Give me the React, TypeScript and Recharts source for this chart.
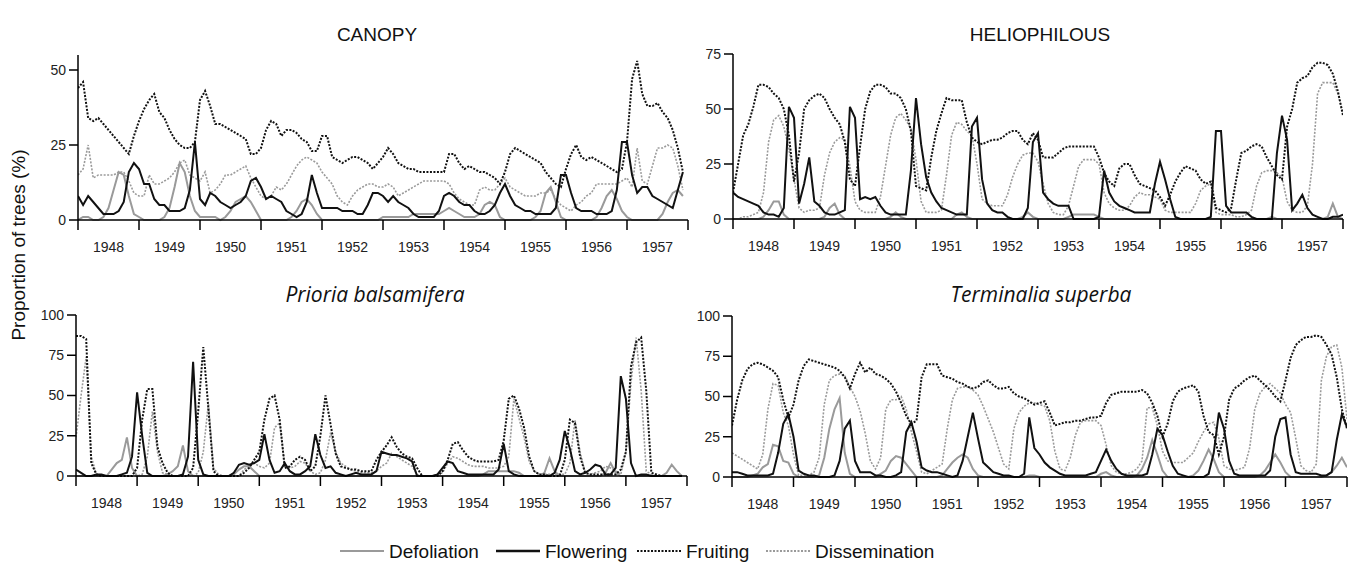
import React from "react";
import { Line, LineChart, XAxis, YAxis } from "recharts";

// monthly values, index 0 = Jan 1948
const YEARS = ["1948", "1949", "1950", "1951", "1952", "1953", "1954", "1955", "1956", "1957"];
const X_TICKS = [0, 0.5, 1, 1.5, 2, 2.5, 3, 3.5, 4, 4.5, 5, 5.5, 6, 6.5, 7, 7.5, 8, 8.5, 9, 9.5, 10];
const CANOPY_Y = [0, 25, 50];
const HELIO_Y = [0, 25, 50, 75];
const SPECIES_Y = [0, 25, 50, 75, 100];

const CANOPY_DEF = [
  0, 1, 1, 0, 0, 1, 4, 10, 16, 15,
  8, 2, 1, 0, 0, 0, 0, 1, 4, 11,
  19, 16, 8, 3, 1, 1, 1, 1, 0, 1,
  3, 6, 7, 8, 6, 3, 0, 0, 0, 0,
  0, 0, 1, 3, 6, 7, 5, 2, 0, 0,
  0, 0, 0, 0, 0, 0, 0, 0, 0, 0,
  1, 1, 1, 1, 1, 1, 2, 2, 2, 2,
  2, 2, 3, 4, 3, 2, 1, 1, 1, 2,
  5, 6, 5, 1, 0, 0, 0, 0, 0, 0,
  1, 3, 9, 11, 6, 1, 0, 0, 0, 0,
  0, 0, 1, 4, 8, 10, 7, 3, 1, 0,
  0, 0, 0, 0, 0, 2, 6, 9, 10, 8,
];
const CANOPY_FLO = [
  8, 5, 8, 6, 4, 2, 2, 2, 3, 6,
  16, 19, 17, 12, 12, 7, 5, 5, 3, 3,
  3, 4, 10, 26, 7, 5, 9, 8, 6, 5,
  4, 5, 6, 8, 13, 14, 11, 7, 8, 7,
  6, 3, 2, 1, 2, 6, 15, 9, 4, 4,
  4, 4, 3, 3, 3, 2, 2, 5, 9, 9,
  8, 6, 8, 6, 5, 4, 2, 1, 1, 1,
  1, 3, 8, 9, 8, 6, 5, 5, 3, 2,
  2, 3, 5, 9, 12, 8, 5, 4, 3, 3,
  2, 2, 2, 2, 4, 15, 15, 9, 4, 3,
  3, 3, 2, 2, 2, 3, 10, 26, 26, 15,
  9, 11, 11, 8, 7, 6, 5, 4, 10, 16,
];
const CANOPY_FRU = [
  44, 46, 34, 33, 34, 32, 30, 28, 26, 24,
  22, 28, 33, 37, 40, 42, 36, 34, 30, 27,
  25, 24, 24, 26, 40, 43, 38, 32, 32, 31,
  30, 29, 28, 27, 22, 22, 24, 30, 33, 32,
  28, 30, 30, 29, 27, 26, 23, 23, 28, 28,
  21, 20, 19, 20, 21, 21, 20, 19, 17, 19,
  21, 24, 22, 19, 18, 17, 17, 16, 16, 16,
  16, 16, 16, 22, 22, 19, 17, 18, 17, 16,
  16, 15, 14, 12, 16, 22, 24, 23, 22, 21,
  20, 19, 16, 14, 12, 11, 17, 22, 25, 21,
  20, 21, 20, 19, 18, 17, 16, 17, 26, 47,
  53, 42, 38, 38, 39, 36, 34, 30, 24, 16,
];
const CANOPY_DIS = [
  15, 17, 25, 14, 15, 15, 15, 15, 16, 16,
  13, 9, 8, 8, 15, 12, 12, 13, 14, 16,
  19, 20, 15, 14, 13, 16, 9, 10, 12, 15,
  15, 16, 17, 18, 14, 11, 8, 7, 8, 11,
  10, 12, 15, 18, 20, 21, 20, 19, 16, 14,
  12, 8, 6, 5, 8, 10, 11, 12, 12, 11,
  11, 12, 11, 8, 9, 10, 11, 12, 13, 13,
  13, 13, 13, 12, 9, 7, 6, 5, 5, 10,
  11, 10, 10, 12, 14, 11, 10, 9, 8, 8,
  8, 9, 9, 10, 7, 5, 4, 3, 5, 6,
  8, 9, 12, 12, 12, 12, 12, 13, 14, 11,
  24, 13, 12, 18, 24, 24, 25, 24, 18, 10,
];

const HELIO_DEF = [
  0, 0, 0, 0, 0, 0, 1, 4, 8, 8,
  2, 0, 0, 0, 0, 0, 0, 0, 1, 5,
  7, 2, 0, 0, 0, 0, 0, 0, 0, 0,
  0, 1, 3, 1, 0, 0, 0, 0, 0, 0,
  0, 0, 0, 0, 2, 3, 1, 0, 0, 0,
  0, 0, 0, 0, 0, 0, 0, 1, 3, 1,
  0, 0, 0, 0, 0, 0, 1, 2, 2, 2,
  2, 2, 1, 0, 0, 0, 0, 0, 0, 0,
  0, 0, 0, 0, 0, 0, 0, 0, 0, 0,
  0, 0, 0, 0, 0, 0, 0, 0, 0, 0,
  0, 0, 0, 0, 0, 0, 1, 0, 0, 0,
  0, 0, 0, 0, 0, 0, 0, 1, 7, 1,
  0,
];
const HELIO_FLO = [
  12, 10, 9, 8, 7, 6, 3, 2, 2, 1,
  5, 51, 46, 7, 16, 28, 8, 6, 3, 2,
  2, 3, 4, 51, 46, 9, 10, 9, 10, 6,
  3, 2, 2, 2, 2, 22, 55, 34, 19, 12,
  8, 5, 4, 3, 2, 2, 2, 42, 46, 18,
  7, 4, 3, 3, 1, 0, 0, 0, 5, 35,
  39, 12, 9, 7, 6, 6, 6, 0, 0, 0,
  0, 0, 1, 22, 12, 8, 6, 5, 4, 3,
  3, 3, 3, 16, 26, 18, 9, 1, 0, 0,
  0, 0, 0, 0, 1, 40, 40, 6, 3, 3,
  3, 3, 1, 0, 0, 0, 0, 30, 47, 36,
  4, 7, 11, 5, 2, 1, 0, 0, 1, 1,
  2,
];
const HELIO_FRU = [
  12, 25, 38, 43, 51, 61, 61, 60, 57, 55,
  50, 38, 17, 30, 50, 54, 56, 57, 55, 50,
  46, 43, 35, 18, 15, 33, 50, 58, 61, 61,
  60, 57, 57, 55, 50, 40, 15, 14, 13, 28,
  40, 48, 55, 54, 54, 54, 44, 37, 35, 34,
  35, 36, 36, 37, 39, 40, 40, 36, 34, 39,
  36, 28, 28, 28, 30, 32, 33, 33, 33, 33,
  33, 33, 28, 21, 17, 15, 23, 25, 25, 20,
  16, 15, 14, 13, 10, 6, 11, 17, 21, 24,
  23, 22, 18, 16, 17, 5, 4, 3, 5, 18,
  30, 31, 33, 34, 33, 28, 24, 20, 18, 42,
  50, 62, 64, 65, 69, 71, 71, 70, 66, 58,
  47,
];
const HELIO_DIS = [
  0, 0, 1, 1, 2, 3, 12, 35, 45, 47,
  42, 32, 18, 5, 3, 4, 4, 5, 20, 30,
  35, 37, 36, 24, 8, 4, 3, 3, 3, 10,
  24, 38, 46, 48, 45, 41, 27, 8, 3, 3,
  3, 4, 20, 38, 44, 43, 40, 38, 25, 9,
  7, 6, 6, 6, 11, 19, 25, 29, 30, 30,
  26, 16, 7, 3, 2, 2, 6, 15, 24, 27,
  27, 27, 25, 12, 7, 5, 4, 4, 6, 10,
  12, 11, 11, 10, 9, 4, 3, 3, 3, 3,
  3, 7, 13, 15, 16, 3, 2, 2, 2, 1,
  1, 2, 4, 15, 21, 22, 22, 21, 19, 8,
  4, 3, 3, 6, 25, 57, 62, 62, 62, 57,
  48,
];

const PRI_DEF = [
  0, 0, 0, 0, 0, 0, 0, 4, 8, 10,
  24, 5, 0, 0, 0, 0, 0, 0, 1, 3,
  6, 19, 3, 0, 0, 0, 0, 0, 0, 0,
  0, 1, 4, 6, 6, 3, 0, 0, 0, 0,
  0, 0, 0, 0, 0, 0, 0, 0, 0, 0,
  0, 0, 0, 0, 0, 0, 0, 0, 0, 0,
  0, 0, 0, 0, 0, 0, 0, 0, 0, 0,
  0, 0, 0, 0, 0, 0, 0, 0, 0, 0,
  1, 3, 3, 3, 3, 3, 3, 2, 0, 0,
  0, 0, 2, 11, 3, 0, 0, 0, 0, 0,
  0, 0, 0, 0, 2, 8, 2, 0, 0, 0,
  0, 0, 0, 0, 0, 0, 2, 7, 3, 0,
];
const PRI_FLO = [
  4, 2, 0, 0, 1, 1, 0, 0, 0, 1,
  2, 12, 52, 25, 2, 0, 0, 0, 0, 0,
  0, 1, 12, 71, 10, 1, 0, 0, 0, 0,
  0, 2, 7, 8, 7, 8, 10, 26, 10, 2,
  3, 8, 3, 1, 1, 3, 6, 26, 13, 5,
  6, 2, 1, 0, 1, 2, 1, 1, 1, 3,
  15, 14, 13, 13, 12, 11, 9, 0, 0, 0,
  0, 1, 5, 9, 8, 3, 2, 1, 1, 1,
  1, 1, 1, 4, 20, 3, 1, 0, 0, 0,
  0, 0, 0, 0, 2, 10, 28, 17, 3, 1,
  2, 4, 7, 6, 1, 1, 5, 62, 48, 8,
  0, 1, 1, 0, 0, 0, 0, 0, 0, 0,
];
const PRI_FRU = [
  87, 87, 85, 8, 1, 0, 0, 0, 0, 0,
  0, 0, 5, 35, 54, 54, 18, 8, 2, 0,
  0, 0, 0, 5, 40, 80, 42, 3, 0, 0,
  0, 0, 0, 2, 5, 10, 15, 35, 48, 50,
  35, 5, 6, 10, 12, 10, 3, 6, 25, 50,
  32, 14, 6, 5, 4, 4, 3, 3, 3, 10,
  15, 19, 24, 18, 14, 12, 11, 5, 0, 0,
  0, 0, 3, 10, 20, 21, 16, 12, 10, 9,
  9, 9, 9, 10, 22, 48, 50, 42, 30, 12,
  3, 1, 1, 0, 0, 0, 10, 35, 33, 12,
  2, 1, 1, 1, 1, 1, 1, 4, 15, 68,
  83, 86, 53, 2, 1, 0, 0, 0, 0, 0,
];
const PRI_DIS = [
  24, 50, 74, 12, 1, 0, 0, 0, 0, 0,
  0, 0, 0, 1, 12, 40, 15, 2, 1, 0,
  0, 0, 0, 0, 2, 15, 45, 5, 1, 0,
  0, 0, 0, 4, 6, 8, 6, 5, 8, 30,
  33, 7, 5, 6, 9, 8, 3, 1, 2, 10,
  27, 15, 8, 6, 4, 3, 2, 2, 2, 3,
  6, 8, 14, 12, 10, 8, 6, 1, 0, 0,
  0, 1, 2, 8, 12, 11, 9, 7, 6, 6,
  6, 5, 5, 5, 6, 12, 48, 36, 24, 9,
  3, 1, 1, 1, 1, 1, 1, 8, 35, 15,
  2, 1, 2, 3, 6, 5, 3, 1, 15, 58,
  86, 53, 3, 1, 0, 0, 0, 0, 0, 0,
];

const TER_DEF = [
  0, 0, 0, 0, 1, 2, 6, 8, 20, 19,
  10, 9, 2, 0, 0, 0, 0, 1, 12, 30,
  42, 49, 15, 2, 0, 0, 0, 0, 0, 2,
  4, 10, 13, 12, 8, 4, 0, 0, 0, 0,
  0, 1, 5, 9, 12, 14, 12, 5, 1, 0,
  0, 0, 0, 0, 0, 0, 0, 0, 1, 1,
  0, 0, 0, 0, 0, 0, 0, 0, 0, 0,
  0, 0, 2, 3, 1, 0, 0, 0, 0, 1,
  5, 12, 23, 14, 4, 0, 0, 0, 0, 0,
  1, 4, 10, 17, 11, 3, 0, 0, 0, 0,
  0, 0, 0, 1, 4, 9, 14, 9, 3, 0,
  0, 0, 0, 0, 0, 0, 1, 3, 7, 12,
  6,
];
const TER_FLO = [
  3, 3, 2, 1, 1, 1, 1, 1, 2, 15,
  33, 39, 25, 4, 2, 1, 1, 0, 0, 0,
  1, 10, 30, 35, 10, 3, 3, 3, 1, 1,
  0, 0, 1, 3, 28, 34, 22, 6, 4, 3,
  3, 2, 1, 0, 1, 10, 25, 40, 24, 9,
  6, 3, 2, 1, 1, 0, 0, 2, 37, 18,
  14, 9, 6, 4, 2, 1, 1, 1, 1, 1,
  2, 3, 10, 17, 10, 5, 2, 1, 1, 1,
  1, 2, 14, 30, 26, 16, 7, 2, 1, 0,
  0, 0, 0, 2, 15, 40, 30, 10, 2, 1,
  1, 1, 1, 1, 1, 4, 25, 36, 37, 14,
  3, 2, 2, 2, 2, 1, 1, 3, 23, 39,
  31,
];
const TER_FRU = [
  32, 48, 60, 67, 70, 71, 70, 68, 66, 62,
  48, 37, 45, 60, 69, 73, 72, 71, 70, 69,
  68, 66, 62, 55, 64, 71, 65, 68, 64, 63,
  61, 58, 53, 46, 38, 33, 35, 62, 70, 70,
  70, 63, 62, 61, 59, 58, 56, 55, 56, 59,
  60, 57, 55, 55, 56, 52, 50, 49, 47, 45,
  46, 47, 40, 32, 33, 34, 34, 35, 35, 36,
  37, 37, 38, 46, 51, 52, 53, 53, 53, 53,
  54, 52, 46, 38, 25, 33, 47, 53, 55, 56,
  57, 53, 38, 28, 26, 14, 25, 48, 55, 57,
  60, 62, 63, 60, 57, 54, 50, 47, 60, 74,
  82, 85, 87, 87, 88, 87, 82, 76, 62, 42,
  30,
];
const TER_DIS = [
  15, 13, 11, 9, 7, 5, 14, 42, 58, 57,
  40, 32, 14, 1, 1, 1, 3, 12, 45, 60,
  63, 64, 63, 56, 50, 41, 27, 10, 5, 12,
  42, 48, 48, 50, 42, 28, 16, 3, 2, 4,
  6, 8, 30, 48, 55, 56, 56, 54, 51, 44,
  36, 28, 18, 8, 5, 30, 40, 44, 46, 46,
  45, 44, 35, 16, 5, 4, 12, 26, 34, 35,
  35, 35, 32, 20, 7, 3, 2, 2, 3, 5,
  10, 43, 43, 32, 16, 10, 9, 9, 9, 12,
  15, 22, 28, 33, 34, 24, 7, 5, 4, 5,
  6, 18, 42, 52, 56, 58, 55, 52, 45, 40,
  24, 7, 4, 3, 8, 60, 75, 81, 82, 68,
  36,
];

const SERIES = [
  { key: "dis", name: "Dissemination", color: "#9a9a9a", width: 1.6, dash: "2 1.5" },
  { key: "def", name: "Defoliation", color: "#9a9a9a", width: 2, dash: undefined },
  { key: "fru", name: "Fruiting", color: "#111", width: 2, dash: "2 1.5" },
  { key: "flo", name: "Flowering", color: "#111", width: 2, dash: undefined },
];

const FONT = "'Liberation Sans', Arial, sans-serif";

function rows(def: number[], flo: number[], fru: number[], dis: number[]) {
  return fru.map((v, i) => ({ t: i / 12, def: def[i], flo: flo[i], fru: v, dis: dis[i] }));
}

function YearTick(props: any) {
  const { x, y, payload } = props;
  const v = payload.value as number;
  if (v % 1 === 0) {
    return <line x1={x} x2={x} y1={y} y2={y + 10} stroke="#000" strokeWidth={1.5} />;
  }
  return (
    <text x={x} y={y + 32} textAnchor="middle" fontSize={14} fill="#222" fontFamily={FONT}>
      {YEARS[Math.floor(v)]}
    </text>
  );
}

function Panel({ left, top, plotW, plotH, yMax, yTicks, data }: any) {
  return (
    <div style={{ position: "absolute", left, top }}>
      <LineChart width={40 + plotW + 6} height={10 + plotH + 40} data={data} margin={{ top: 10, right: 6, bottom: 0, left: 0 }}>
        <XAxis
          dataKey="t"
          type="number"
          domain={[0, 10]}
          ticks={X_TICKS}
          interval={0}
          tickSize={0}
          tickMargin={0}
          tickLine={false}
          tick={(p: any) => <YearTick {...p} />}
          axisLine={{ stroke: "#000", strokeWidth: 1.5 }}
          height={40}
          allowDataOverflow
        />
        <YAxis
          type="number"
          domain={[0, yMax]}
          ticks={yTicks}
          interval={0}
          width={40}
          tickSize={9}
          tickMargin={3}
          axisLine={{ stroke: "#000", strokeWidth: 1.5 }}
          tickLine={{ stroke: "#000", strokeWidth: 1.5 }}
          tick={{ fill: "#222", fontSize: 14, fontFamily: FONT }}
        />
        {SERIES.map((s) => (
          <Line
            key={s.key}
            type="linear"
            dataKey={s.key}
            name={s.name}
            stroke={s.color}
            strokeWidth={s.width}
            strokeDasharray={s.dash}
            dot={false}
            isAnimationActive={false}
          />
        ))}
      </LineChart>
    </div>
  );
}

function LegendItem({ x, s }: any) {
  return (
    <g>
      <line x1={x} x2={x + 44} y1={551} y2={551} stroke={s.color} strokeWidth={s.key === "flo" ? 2.5 : 2} strokeDasharray={s.dash} />
      <text x={x + 49} y={558} fontSize={19} fill="#111" fontFamily={FONT}>{s.name}</text>
    </g>
  );
}

export default function App() {
  const byKey: any = Object.fromEntries(SERIES.map((s) => [s.key, s]));
  return (
    <div style={{ position: "absolute", left: 0, top: 0, width: 1354, height: 569, background: "#fff", overflow: "hidden" }}>
      <Panel left={38} top={45} plotW={610} plotH={165} yMax={55} yTicks={CANOPY_Y}
        data={rows(CANOPY_DEF, CANOPY_FLO, CANOPY_FRU, CANOPY_DIS)} />
      <Panel left={693} top={44} plotW={610} plotH={165} yMax={75} yTicks={HELIO_Y}
        data={rows(HELIO_DEF, HELIO_FLO, HELIO_FRU, HELIO_DIS)} />
      <Panel left={36} top={305} plotW={611} plotH={161} yMax={100} yTicks={SPECIES_Y}
        data={rows(PRI_DEF, PRI_FLO, PRI_FRU, PRI_DIS)} />
      <Panel left={692} top={306} plotW={615} plotH={161} yMax={100} yTicks={SPECIES_Y}
        data={rows(TER_DEF, TER_FLO, TER_FRU, TER_DIS)} />
      <svg width={1354} height={569} style={{ position: "absolute", left: 0, top: 0, pointerEvents: "none" }}>
        <text x={377} y={41} textAnchor="middle" fontSize={19} fill="#111" fontFamily={FONT}>CANOPY</text>
        <text x={1040} y={41} textAnchor="middle" fontSize={19} fill="#111" fontFamily={FONT}>HELIOPHILOUS</text>
        <text x={375} y={302} textAnchor="middle" fontSize={21} fontStyle="italic" fill="#111" fontFamily="'Open Sans', sans-serif">Prioria balsamifera</text>
        <text x={1041} y={302} textAnchor="middle" fontSize={21} fontStyle="italic" fill="#111" fontFamily="'Open Sans', sans-serif">Terminalia superba</text>
        <text transform="translate(25,245) rotate(-90)" textAnchor="middle" fontSize={19} fill="#111" fontFamily={FONT}>Proportion of trees (%)</text>
        <LegendItem x={340} s={byKey.def} />
        <LegendItem x={496} s={byKey.flo} />
        <LegendItem x={637} s={byKey.fru} />
        <LegendItem x={766} s={byKey.dis} />
      </svg>
    </div>
  );
}
